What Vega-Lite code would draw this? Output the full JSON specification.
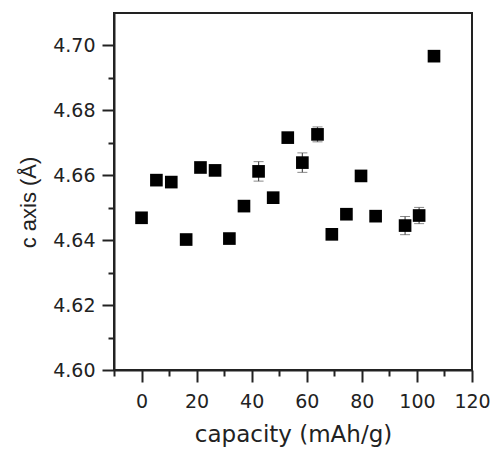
{
  "$schema": "https://vega.github.io/schema/vega-lite/v6.json",
  "autosize": "none",
  "width": 358,
  "height": 357,
  "padding": {"left": 114, "top": 13, "right": 21, "bottom": 84},
  "background": "white",
  "config": {
    "view": {"stroke": "#222", "strokeWidth": 2},
    "axis": {
      "grid": false,
      "domainColor": "#222",
      "domainWidth": 2,
      "tickColor": "#222",
      "tickWidth": 2,
      "tickCount": 100,
      "labelFont": "DejaVu Sans",
      "labelFontSize": 19,
      "labelColor": "#222",
      "labelOverlap": false,
      "labelFlush": false,
      "titleFont": "DejaVu Sans",
      "titleFontSize": 23,
      "titleFontWeight": "normal",
      "titleColor": "#222"
    }
  },
  "data": {
    "values": [
      {"capacity": 0.0, "c": 4.6469},
      {"capacity": 5.4, "c": 4.6585},
      {"capacity": 10.8, "c": 4.6579},
      {"capacity": 16.2, "c": 4.6402},
      {"capacity": 21.4, "c": 4.6624},
      {"capacity": 26.7, "c": 4.6615},
      {"capacity": 31.9, "c": 4.6405},
      {"capacity": 37.2, "c": 4.6505},
      {"capacity": 42.5, "c": 4.6612, "lo": 4.6582, "hi": 4.6642},
      {"capacity": 47.8, "c": 4.6531},
      {"capacity": 53.1, "c": 4.6716},
      {"capacity": 58.4, "c": 4.6639, "lo": 4.6609, "hi": 4.6669},
      {"capacity": 63.9, "c": 4.6726, "lo": 4.6703, "hi": 4.6749},
      {"capacity": 69.1, "c": 4.6418},
      {"capacity": 74.4, "c": 4.648},
      {"capacity": 79.7, "c": 4.6598},
      {"capacity": 85.0, "c": 4.6474},
      {"capacity": 95.7, "c": 4.6445, "lo": 4.6417, "hi": 4.6473},
      {"capacity": 100.8, "c": 4.6476, "lo": 4.6451, "hi": 4.6501},
      {"capacity": 106.2, "c": 4.6967}
    ]
  },
  "layer": [
    {
      "transform": [{"filter": "isValid(datum.lo)"}],
      "mark": {"type": "errorbar", "ticks": {"size": 10, "color": "#555", "strokeWidth": 1.2}, "rule": {"color": "#555", "strokeWidth": 1.2}},
      "encoding": {
        "x": {"field": "capacity", "type": "quantitative", "title": "capacity (mAh/g)"},
        "y": {"field": "lo", "type": "quantitative", "title": "c axis (Å)"},
        "y2": {"field": "hi"}
      }
    },
    {
      "mark": {"type": "point", "shape": "square", "filled": true, "color": "#000", "opacity": 1, "size": 160},
      "encoding": {
        "x": {
          "field": "capacity",
          "type": "quantitative",
          "title": "capacity (mAh/g)",
          "scale": {"domain": [-10, 120], "nice": false, "zero": false},
          "axis": {
            "values": [-10, 0, 10, 20, 30, 40, 50, 60, 70, 80, 90, 100, 110, 120],
            "labelExpr": "abs(round(datum.value)) % 20 == 0 ? datum.label : ''",
            "tickSize": {"condition": {"test": "abs(round(datum.value)) % 20 == 0", "value": 12}, "value": 6},
            "labelPadding": 10,
            "titlePadding": 12
          }
        },
        "y": {
          "field": "c",
          "type": "quantitative",
          "title": "c axis (Å)",
          "scale": {"domain": [4.6, 4.71], "nice": false, "zero": false},
          "axis": {
            "titleFont": "Liberation Sans",
            "titleFontSize": 22,
            "titleY": 189,
            "values": [4.6, 4.61, 4.62, 4.63, 4.64, 4.65, 4.66, 4.67, 4.68, 4.69, 4.7],
            "format": ".2f",
            "labelExpr": "round(datum.value * 100) % 2 === 0 ? datum.label : ''",
            "tickSize": {"condition": {"test": "round(datum.value * 100) % 2 === 0", "value": 12}, "value": 6},
            "labelPadding": 7,
            "titlePadding": 12
          }
        }
      }
    }
  ]
}
